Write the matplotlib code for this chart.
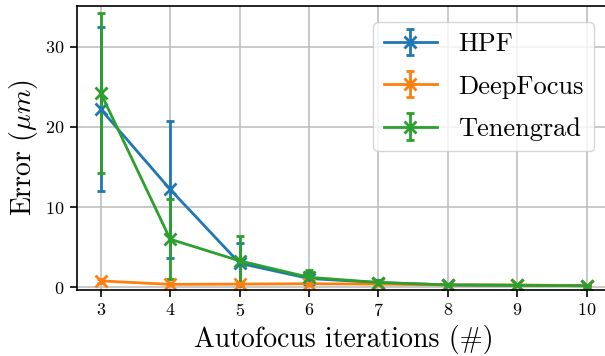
import numpy as np
import matplotlib
matplotlib.use("Agg")
import matplotlib.pyplot as plt

plt.rcParams['font.family'] = 'serif'
plt.rcParams['font.serif'] = ['cmr10', 'DejaVu Serif']
plt.rcParams['mathtext.fontset'] = 'cm'
plt.rcParams['axes.formatter.use_mathtext'] = True

# data
iterations = [3, 4, 5, 6, 7, 8, 9, 10]
hpf_mean = [22.2, 12.2, 3.0, 1.1, 0.6, 0.3, 0.25, 0.2]
hpf_err = [10.2, 8.5, 2.5, 0.8, 0.3, 0.1, 0.1, 0.05]
deep_mean = [0.8, 0.37, 0.4, 0.45, 0.4, 0.3, 0.3, 0.2]
deep_err = [0.3, 0.1, 0.1, 0.1, 0.1, 0.05, 0.05, 0.05]
tenen_mean = [24.2, 6.0, 3.3, 1.25, 0.6, 0.3, 0.25, 0.2]
tenen_err = [9.95, 5.0, 3.1, 0.9, 0.3, 0.1, 0.1, 0.05]

series = [("HPF", hpf_mean, hpf_err, "tab:blue"),
          ("DeepFocus", deep_mean, deep_err, "tab:orange"),
          ("Tenengrad", tenen_mean, tenen_err, "tab:green")]

fig = plt.figure(figsize=(6.05, 3.56), dpi=100)
# right edge of the axes runs past the figure, as in the cropped original
ax = fig.add_axes([76.5 / 605, 1 - 290.3 / 356, (611 - 76.5) / 605, (290.3 - 6) / 356])

for name, m, e, c in series:
    ax.errorbar(iterations, m, yerr=e, label=name, color=c, marker='x',
                markersize=8.5, markeredgewidth=2, linewidth=2,
                elinewidth=2, capsize=3, capthick=2)

ax.set_xlim(2.65, 10.35)
ax.set_ylim(-0.37, 35.07)
ax.set_xticks(iterations)
ax.set_yticks([0, 10, 20, 30])
ax.grid(True, color='#c0c0c0', linewidth=1.2)
ax.set_axisbelow(True)
ax.tick_params(labelsize=13, length=5, width=1.2)
for s in ax.spines.values():
    s.set_linewidth(1.2)
ax.set_xlabel("Autofocus iterations (#)", fontsize=20)
ax.set_ylabel(r"Error ($\mu m$)", fontsize=20)
ax.legend(loc='upper right', bbox_to_anchor=((607 - 76.5) / (611 - 76.5), 0.99),
          fontsize=19, handlelength=2.0, labelspacing=0.7)

fig.savefig("out.png", dpi=100)
